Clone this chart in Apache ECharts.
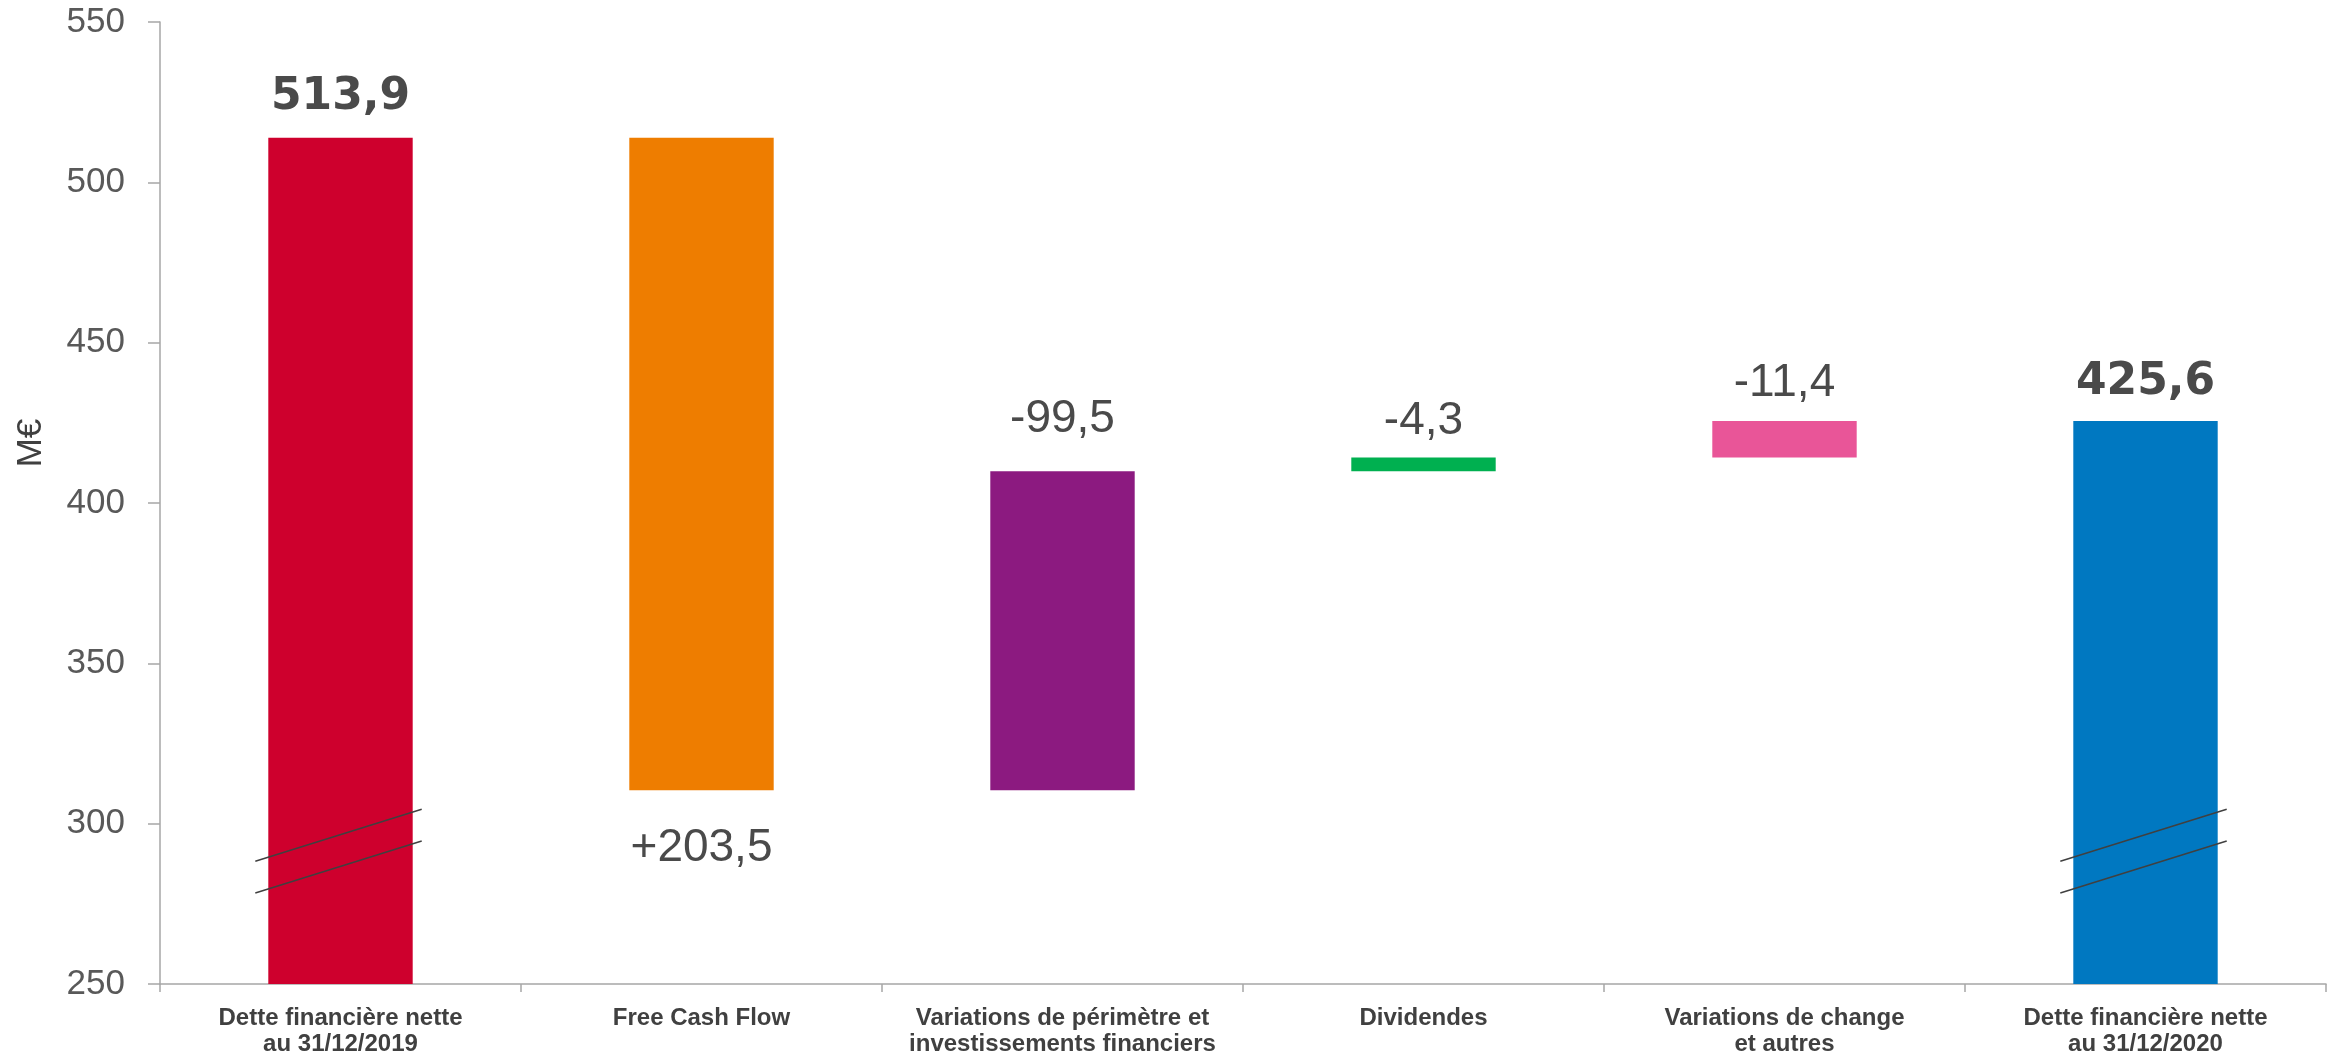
<!DOCTYPE html>
<html>
<head>
<meta charset="utf-8">
<script src="https://cdn.jsdelivr.net/npm/echarts@6/dist/echarts.min.js"></script>
<style>
html,body{margin:0;padding:0;background:#fff;}
#chart{width:2338px;height:1058px;}
</style>
</head>
<body>
<div id="chart"></div>
<script>
// ---- data ----
const categories = [
  'Dette financière nette\nau 31/12/2019',
  'Free Cash Flow',
  'Variations de périmètre et\ninvestissements financiers',
  'Dividendes',
  'Variations de change\net autres',
  'Dette financière nette\nau 31/12/2020'
];
const openingDebt = 513.9;
const cashImpacts = [203.5, -99.5, -4.3, -11.4]; // labels shown on the bridge steps
const closingDebt = 425.6;
const yMin = 250, yMax = 550, yInterval = 50;
// axis-break marks (left value, right value) drawn on the first and last bars
const breakMarks = [[288.3, 304.5], [278.4, 294.6]];
const breakBars = [0, 5];
const barColors = ['#CE002D', '#EE7D00', '#8C1A80', '#00B050', '#E95598', '#0078C1'];

// ---- build waterfall ----
function fmt(v, sign) {
  const s = Math.abs(v).toFixed(1).replace('.', ',');
  if (!sign) return s;
  return (v >= 0 ? '+' : '-') + s;
}
const baseData = [0];
const valData = [openingDebt];
const labelTexts = [fmt(openingDebt, false)];
let running = openingDebt;
cashImpacts.forEach(function (c) {
  const next = running - c;
  const lo = Math.min(running, next);
  baseData.push(+lo.toFixed(1));
  valData.push(+Math.abs(c).toFixed(1));
  labelTexts.push(fmt(c, true));
  running = next;
});
baseData.push(0);
valData.push(closingDebt);
labelTexts.push(fmt(closingDebt, false));

const labelCfg = [
  {position: 'top', distance: 18, bold: true},
  {position: 'bottom', distance: 35},
  {position: 'top', distance: 29},
  {position: 'top', distance: 13},
  {position: 'top', distance: 15},
  {position: 'top', distance: 16, bold: true}
];

const visibleData = valData.map(function (v, i) {
  const lc = labelCfg[i];
  return {
    value: v,
    itemStyle: {color: barColors[i]},
    label: {
      show: true,
      position: lc.position,
      distance: lc.distance,
      formatter: labelTexts[i],
      fontFamily: lc.bold ? 'DejaVu Sans' : 'Liberation Sans, Arial',
      fontWeight: lc.bold ? 'bold' : 'normal',
      fontSize: lc.bold ? 44 : 46,
      color: '#4A4A4A'
    }
  };
});

const breakData = [];
breakBars.forEach(function (b) {
  breakMarks.forEach(function (m) { breakData.push([b, m[0], m[1]]); });
});

const chart = echarts.init(document.getElementById('chart'));
chart.setOption({
  animation: false,
  backgroundColor: '#ffffff',
  grid: {left: 160, right: 12, top: 22, bottom: 74, containLabel: false, outerBoundsMode: 'none'},
  xAxis: {
    type: 'category',
    data: categories,
    axisLine: {lineStyle: {color: '#A6A6A6', width: 1.5}},
    axisTick: {show: true, length: 8, lineStyle: {color: '#A6A6A6', width: 1.5}},
    axisLabel: {
      interval: 0,
      margin: 21,
      fontFamily: 'Liberation Sans, Arial',
      fontWeight: 'bold',
      fontSize: 24,
      lineHeight: 26,
      color: '#404040'
    }
  },
  yAxis: {
    type: 'value',
    min: yMin,
    max: yMax,
    interval: yInterval,
    name: 'M€',
    nameLocation: 'middle',
    nameRotate: 90,
    nameGap: 111,
    nameTextStyle: {
      fontFamily: 'Liberation Sans, Arial',
      fontSize: 35,
      color: '#404040',
      padding: [0, 0, 0, 120]
    },
    splitLine: {show: false},
    axisLine: {show: true, lineStyle: {color: '#A6A6A6', width: 1.5}},
    axisTick: {show: true, length: 12, lineStyle: {color: '#A6A6A6', width: 1.5}},
    axisLabel: {
      margin: 35,
      fontFamily: 'Liberation Sans, Arial',
      fontSize: 35,
      color: '#595959'
    }
  },
  series: [
    {
      type: 'bar',
      stack: 'wf',
      barWidth: '40%',
      silent: true,
      itemStyle: {color: 'rgba(0,0,0,0)'},
      data: baseData
    },
    {
      type: 'bar',
      stack: 'wf',
      barWidth: '40%',
      clip: true,
      data: visibleData
    },
    {
      type: 'custom',
      clip: false,
      z: 10,
      data: breakData,
      renderItem: function (params, api) {
        const c = api.value(0);
        const p1 = api.coord([c, api.value(1)]);
        const p2 = api.coord([c, api.value(2)]);
        const bw = api.size([1, 0])[0] * 0.4;
        return {
          type: 'line',
          shape: {x1: p1[0] - bw / 2 - 13, y1: p1[1], x2: p2[0] + bw / 2 + 9, y2: p2[1]},
          style: {stroke: '#404040', lineWidth: 1.5}
        };
      }
    }
  ]
});
</script>
</body>
</html>
